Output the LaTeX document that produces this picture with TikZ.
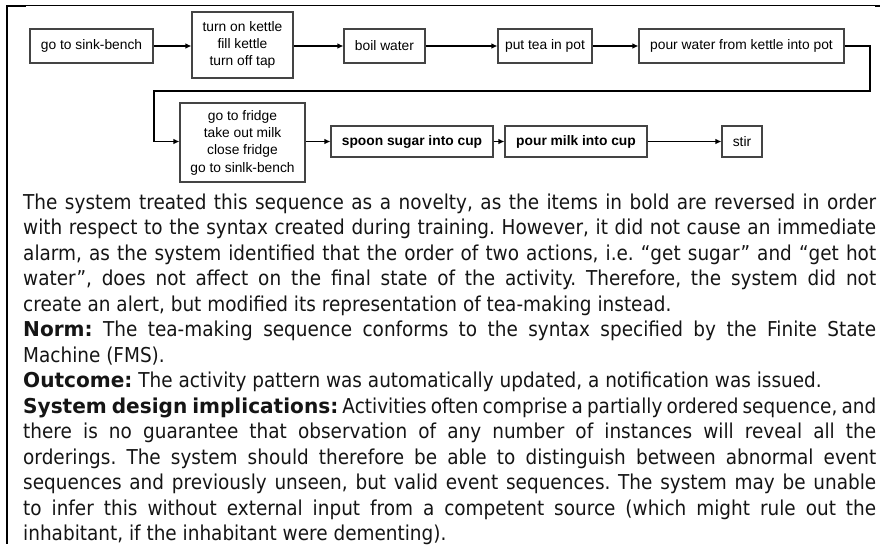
\documentclass[tikz,border=0pt]{standalone}
\usepackage{fontspec}
\setmainfont{Liberation Sans}
\newfontfamily\txtfont{DejaVu Sans}[FakeStretch=0.9]
\newfontfamily\txtbold{DejaVu Sans}[FakeStretch=0.98]
\usetikzlibrary{arrows.meta}
\definecolor{boxgray}{HTML}{444444}
\definecolor{textcol}{HTML}{151515}
\newcommand\jl[1]{\noindent\makebox[\linewidth][s]{#1}\par}
\newcommand\rl[1]{\noindent #1\par}
\newcommand\hb[1]{{\txtbold\bfseries #1}}
\begin{document}
\begin{tikzpicture}[x=1pt,y=-1pt,
  box/.style={draw=boxgray, line width=1.1pt, fill=white, inner sep=0pt, align=center,
    font=\fontsize{13.8}{17.3}\selectfont, text=black},
  boldbox/.style={box, font=\fontsize{13.8}{17.3}\selectfont\bfseries},
  arr/.style={line width=1.1pt, line join=miter, -{Latex[length=6pt,width=5.5pt]}}]
\useasboundingbox (0,0) rectangle (881,544);
% frame
\draw[line width=2pt] (7,5) -- (7,544);
\draw[line width=2pt] (6,5.5) -- (26,5.5);
\draw[line width=1pt] (26,5.5) -- (876,5.5);
\draw[line width=2pt] (875,6) -- (880,6);
% row 1
\node[box, minimum width=123pt, minimum height=34pt] (b1) at (91.5,46) {go to sink-bench};
\node[box, minimum width=101pt, minimum height=66pt] (b2) at (242.5,45) {turn on kettle\\fill kettle\\turn off tap};
\node[box, minimum width=81pt, minimum height=34pt] (b3) at (384.5,46) {boil water};
\node[box, minimum width=94pt, minimum height=34pt] (b4) at (545,46) {put tea in pot};
\node[box, minimum width=205pt, minimum height=34pt] (b5) at (741.5,46) {pour water from kettle into pot};
% row 2
\node[box, minimum width=125pt, minimum height=79pt] (b6) at (242.5,142.5) {go to fridge\\take out milk\\close fridge\\go to sinlk-bench};
\node[boldbox, minimum width=162pt, minimum height=31pt] (b7) at (412,141.5) {spoon sugar into cup};
\node[boldbox, minimum width=142pt, minimum height=31pt] (b8) at (576,141.5) {pour milk into cup};
\node[box, minimum width=40pt, minimum height=31pt] (b9) at (742,141.5) {stir};
% arrows
\draw[arr] (b1.east) -- (b1.east -| b2.west);
\draw[arr] (b2.east |- b3.west) -- (b3.west);
\draw[arr] (b3.east) -- (b4.west);
\draw[arr] (b4.east) -- (b5.west);
\coordinate (c1) at (870,46);
\coordinate (c2) at (870,91);
\coordinate (c3) at (154,91);
\draw[arr] (b5.east) -- (c1) -- (c2) -- (c3) |- (b6.west |- b7.west);
\draw[arr] (b6.east |- b7.west) -- (b7.west);
\draw[arr] (b7.east) -- (b8.west);
\draw[arr] (b8.east) -- (b9.west);
% text
\node[anchor=base west, inner sep=0pt, text=textcol] (para) at (23,209.3) {\parbox[t]{853pt}{\txtfont\fontsize{20.5}{25.5}\selectfont\frenchspacing
\jl{The system treated this sequence as a novelty, as the items in bold are reversed in order}
\jl{with respect to the syntax created during training. However, it did not cause an immediate}
\jl{alarm, as the system identified that the order of two actions, i.e. “get sugar” and “get hot}
\jl{water”, does not affect on the final state of the activity. Therefore, the system did not}
\rl{create an alert, but modified its representation of tea-making instead.}
\jl{\hb{Norm:} The tea-making sequence conforms to the syntax specified by the Finite State}
\rl{Machine (FMS).}
\rl{\hb{Outcome:} The activity pattern was automatically updated, a notification was issued.}
\jl{\hb{System design implications:} Activities often comprise a partially ordered sequence, and}
\jl{there is no guarantee that observation of any number of instances will reveal all the}
\jl{orderings. The system should therefore be able to distinguish between abnormal event}
\jl{sequences and previously unseen, but valid event sequences. The system may be unable}
\jl{to infer this without external input from a competent source (which might rule out the}
\rl{inhabitant, if the inhabitant were dementing).}
}};
\end{tikzpicture}
\end{document}
